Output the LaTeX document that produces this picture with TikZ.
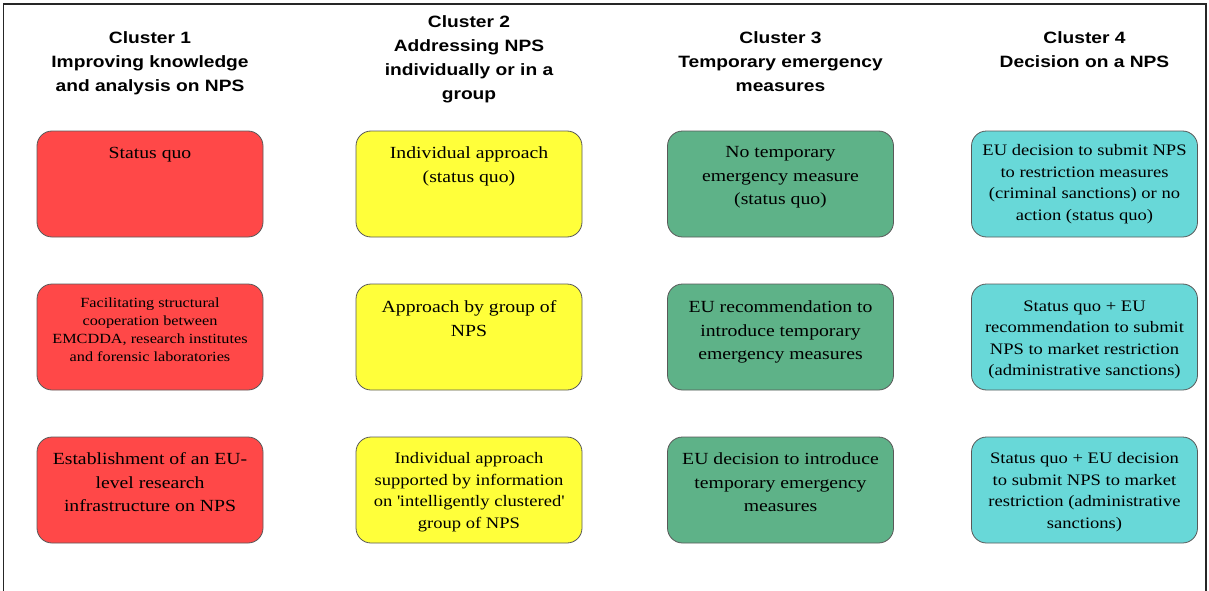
\documentclass[tikz,border=0pt]{standalone}
\usepackage{fontspec}
\setmainfont[FakeStretch=1.16]{Liberation Serif}
\newfontfamily\headfont[FakeStretch=1.17]{Liberation Sans}
\definecolor{optred}{RGB}{255,72,72}
\definecolor{optyellow}{RGB}{255,255,58}
\definecolor{optgreen}{RGB}{94,178,136}
\definecolor{optcyan}{RGB}{104,216,216}
\begin{document}
\begin{tikzpicture}[x=1pt,y=-1pt]
\tikzset{
  optbox/.style={draw=black!65, line width=0.8pt, rounded corners=15pt,
    minimum width=226pt, minimum height=106pt, inner sep=0pt},
  redbox/.style={optbox, fill=optred},
  yellowbox/.style={optbox, fill=optyellow},
  greenbox/.style={optbox, fill=optgreen},
  cyanbox/.style={optbox, fill=optcyan},
  boxtext/.style={anchor=north, align=center, inner sep=0pt,
    font=\fontsize{17}{23.5}\selectfont},
  smalltext/.style={boxtext, font=\fontsize{16}{21.5}\selectfont},
  tinytext/.style={boxtext, font=\fontsize{14}{18}\selectfont},
  heading/.style={anchor=north, align=center, inner sep=0pt,
    font=\headfont\bfseries\fontsize{16.4}{24}\selectfont},
}
\useasboundingbox (0,0) rectangle (1209,591);
% outer frame (open at the bottom)
\draw[line width=1.2pt, black!85] (3.5,591) -- (3.5,4) -- (1206,4) -- (1206,591);

% column headings
\node[heading] (h1) at (150,31) {Cluster 1\\Improving knowledge\\and analysis on NPS};
\node[heading] (h2) at (469,15) {Cluster 2\\Addressing NPS\\individually or in a\\group};
\node[heading] (h3) at (780.5,31) {Cluster 3\\Temporary emergency\\measures};
\node[heading] (h4) at (1084.5,31) {Cluster 4\\Decision on a NPS};

% option boxes
\node[redbox] (b11) at (150,184) {};
\node[redbox] (b12) at (150,337) {};
\node[redbox] (b13) at (150,490) {};
\node[yellowbox] (b21) at (469,184) {};
\node[yellowbox] (b22) at (469,337) {};
\node[yellowbox] (b23) at (469,490) {};
\node[greenbox] (b31) at (780.5,184) {};
\node[greenbox] (b32) at (780.5,337) {};
\node[greenbox] (b33) at (780.5,490) {};
\node[cyanbox] (b41) at (1084.5,184) {};
\node[cyanbox] (b42) at (1084.5,337) {};
\node[cyanbox] (b43) at (1084.5,490) {};

% option texts
\node[boxtext] (t11) at ([yshift=-16pt]b11.north) {Status quo};
\node[tinytext] (t12) at ([yshift=-14pt]b12.north) {Facilitating structural\\cooperation between\\EMCDDA, research institutes\\and forensic laboratories};
\node[boxtext] (t13) at ([yshift=-16pt]b13.north) {Establishment of an EU-\\level research\\infrastructure on NPS};

\node[boxtext] (t21) at ([yshift=-16pt]b21.north) {Individual approach\\(status quo)};
\node[boxtext] (t22) at ([yshift=-17pt]b22.north) {Approach by group of\\NPS};
\node[smalltext] (t23) at ([yshift=-16pt]b23.north) {Individual approach\\supported by information\\on \textquotesingle intelligently clustered\textquotesingle\\group of NPS};

\node[boxtext] (t31) at ([yshift=-16pt]b31.north) {No temporary\\emergency measure\\(status quo)};
\node[boxtext] (t32) at ([yshift=-17pt]b32.north) {EU recommendation to\\introduce temporary\\emergency measures};
\node[boxtext] (t33) at ([yshift=-16pt]b33.north) {EU decision to introduce\\temporary emergency\\measures};

\node[smalltext] (t41) at ([yshift=-14pt]b41.north) {EU decision to submit NPS\\to restriction measures\\(criminal sanctions) or no\\action (status quo)};
\node[smalltext] (t42) at ([yshift=-17pt]b42.north) {Status quo + EU\\recommendation to submit\\NPS to market restriction\\(administrative sanctions)};
\node[smalltext] (t43) at ([yshift=-16pt]b43.north) {Status quo + EU decision\\to submit NPS to market\\restriction (administrative\\sanctions)};
\end{tikzpicture}
\end{document}
